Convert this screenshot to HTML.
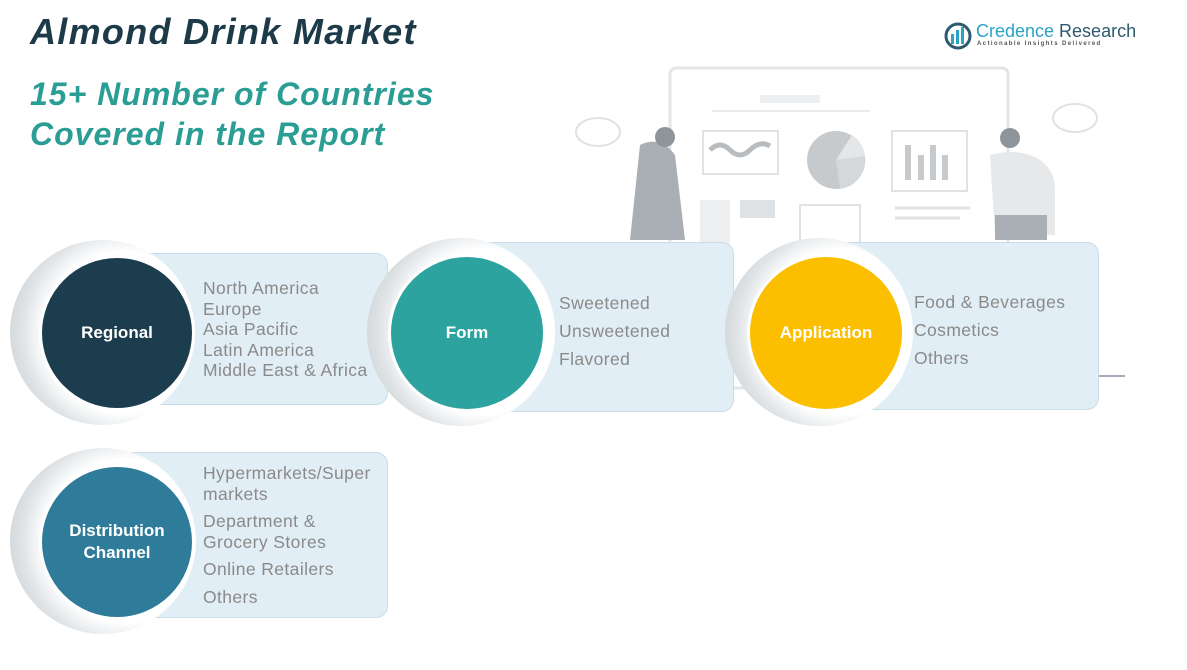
<!DOCTYPE html>
<html><head><style>
body{margin:0;width:1187px;height:670px;background:#fff;position:relative;overflow:hidden;font-family:"Liberation Sans",sans-serif}
.t{position:absolute;font-weight:bold;font-style:italic}
.card{position:absolute;background:#e1eef5;border:1.5px solid #c9dde9;border-radius:12px}
.arc{position:absolute;border-radius:50%;background:radial-gradient(circle at 62% 50%,#fff 55%,#dfe3e6 70%,#b9c0c5 100%)}
.c{position:absolute;border-radius:50%;border:3px solid #fff;color:#fff;font-weight:bold;font-size:17px;display:flex;align-items:center;justify-content:center;text-align:center;line-height:22px}
.tx{position:absolute;color:#8a8a8a;font-size:17.5px;line-height:20.5px;letter-spacing:0.4px}
</style></head><body>
<svg width="1187" height="670" style="position:absolute;left:0;top:0">
<g fill="none" stroke="#e3e5e7" stroke-width="3">
<rect x="670" y="68" width="338" height="320" rx="6"/>
</g>
<rect x="760" y="95" width="60" height="8" fill="#eceef0"/>
<line x1="712" y1="111" x2="870" y2="111" stroke="#e8eaec" stroke-width="2"/>
<rect x="703" y="131" width="75" height="43" fill="none" stroke="#e0e2e4" stroke-width="2"/>
<path d="M710 150 q10 -10 20 0 t20 0 t20 -4" stroke="#b8bcbf" stroke-width="5" fill="none"/>
<circle cx="836" cy="160" r="29" fill="#c6cacd"/>
<path d="M836 160 L852 135 A29 29 0 0 1 865 156 Z" fill="#e4e6e8"/>
<path d="M836 160 L865 156 A29 29 0 0 1 840 189 Z" fill="#d5d8da"/>
<rect x="892" y="131" width="75" height="60" fill="none" stroke="#e0e2e4" stroke-width="2"/>
<g fill="#c6cacd"><rect x="905" y="145" width="6" height="35"/><rect x="918" y="155" width="6" height="25"/><rect x="930" y="145" width="6" height="35"/><rect x="942" y="155" width="6" height="25"/></g>
<rect x="800" y="205" width="60" height="40" fill="none" stroke="#e0e2e4" stroke-width="2"/>
<rect x="700" y="200" width="30" height="45" fill="#eceef0"/><rect x="740" y="200" width="35" height="18" fill="#dfe2e4"/>
<g stroke="#e0e2e4" stroke-width="3"><line x1="895" y1="208" x2="970" y2="208"/><line x1="895" y1="218" x2="960" y2="218"/></g>
<path d="M640 145 q20 -10 35 10 l10 85 h-55 z" fill="#a9afb4"/>
<circle cx="665" cy="137" r="10" fill="#8d959b"/>
<path d="M990 155 q30 -8 50 5 q15 10 15 30 v45 h-60 z" fill="#e6e8ea"/>
<rect x="995" y="215" width="52" height="25" fill="#a9afb4"/>
<circle cx="1010" cy="138" r="10" fill="#8d959b"/>
<ellipse cx="598" cy="132" rx="22" ry="14" fill="none" stroke="#e0e2e4" stroke-width="2"/>
<ellipse cx="1075" cy="118" rx="22" ry="14" fill="none" stroke="#e0e2e4" stroke-width="2"/>
<line x1="1095" y1="376" x2="1125" y2="376" stroke="#aab" stroke-width="2"/>
<circle cx="958" cy="36" r="12" fill="none" stroke="#2d5a6e" stroke-width="3"/>
<g fill="#2ba3c4"><rect x="951" y="34" width="3" height="10"/><rect x="956" y="30" width="3" height="14"/><rect x="961" y="27" width="3" height="17"/></g>
</svg>
<div style="position:absolute;left:976px;top:21px;font-size:18px;color:#2d5a6e"><span style="color:#2ba3c4">Credence</span> Research</div>
<div style="position:absolute;left:977px;top:41px;font-size:6px;letter-spacing:1.4px;color:#555;font-weight:bold">Actionable Insights Delivered</div>

<div class="t" style="left:30px;top:11px;font-size:36px;letter-spacing:1.3px;color:#1d3a48">Almond Drink Market</div>
<div class="t" style="left:30px;top:74px;font-size:32px;line-height:40px;letter-spacing:1px;color:#2a9d94">15+ Number of Countries<br>Covered in the Report</div>

<div class="card" style="left:130px;top:253px;width:256px;height:150px"></div>
<div class="arc" style="left:10px;top:240px;width:185px;height:185px"></div>
<div class="c" style="left:39px;top:255px;width:150px;height:150px;background:#1b3d4d">Regional</div>
<div class="tx" style="left:203px;top:278px">North America<br>Europe<br>Asia Pacific<br>Latin America<br>Middle East &amp; Africa</div>

<div class="card" style="left:476px;top:242px;width:256px;height:168px"></div>
<div class="arc" style="left:367px;top:238px;width:188px;height:188px"></div>
<div class="c" style="left:388px;top:254px;width:152px;height:152px;background:#2ca39e">Form</div>
<div class="tx" style="left:559px;top:289px;line-height:28px">Sweetened<br>Unsweetened<br>Flavored</div>

<div class="card" style="left:833px;top:242px;width:264px;height:166px"></div>
<div class="arc" style="left:725px;top:238px;width:188px;height:188px"></div>
<div class="c" style="left:747px;top:254px;width:152px;height:152px;background:#fbbf00">Application</div>
<div class="tx" style="left:914px;top:288px;line-height:28px">Food &amp; Beverages<br>Cosmetics<br>Others</div>

<div class="card" style="left:122px;top:452px;width:264px;height:164px"></div>
<div class="arc" style="left:10px;top:448px;width:186px;height:186px"></div>
<div class="c" style="left:39px;top:464px;width:150px;height:150px;background:#2f7c9a">Distribution<br>Channel</div>
<div class="tx" style="left:203px;top:463px">Hypermarkets/Super<br>markets</div>
<div class="tx" style="left:203px;top:511px">Department &amp;<br>Grocery Stores</div>
<div class="tx" style="left:203px;top:559px">Online Retailers</div>
<div class="tx" style="left:203px;top:587px">Others</div>
</body></html>
